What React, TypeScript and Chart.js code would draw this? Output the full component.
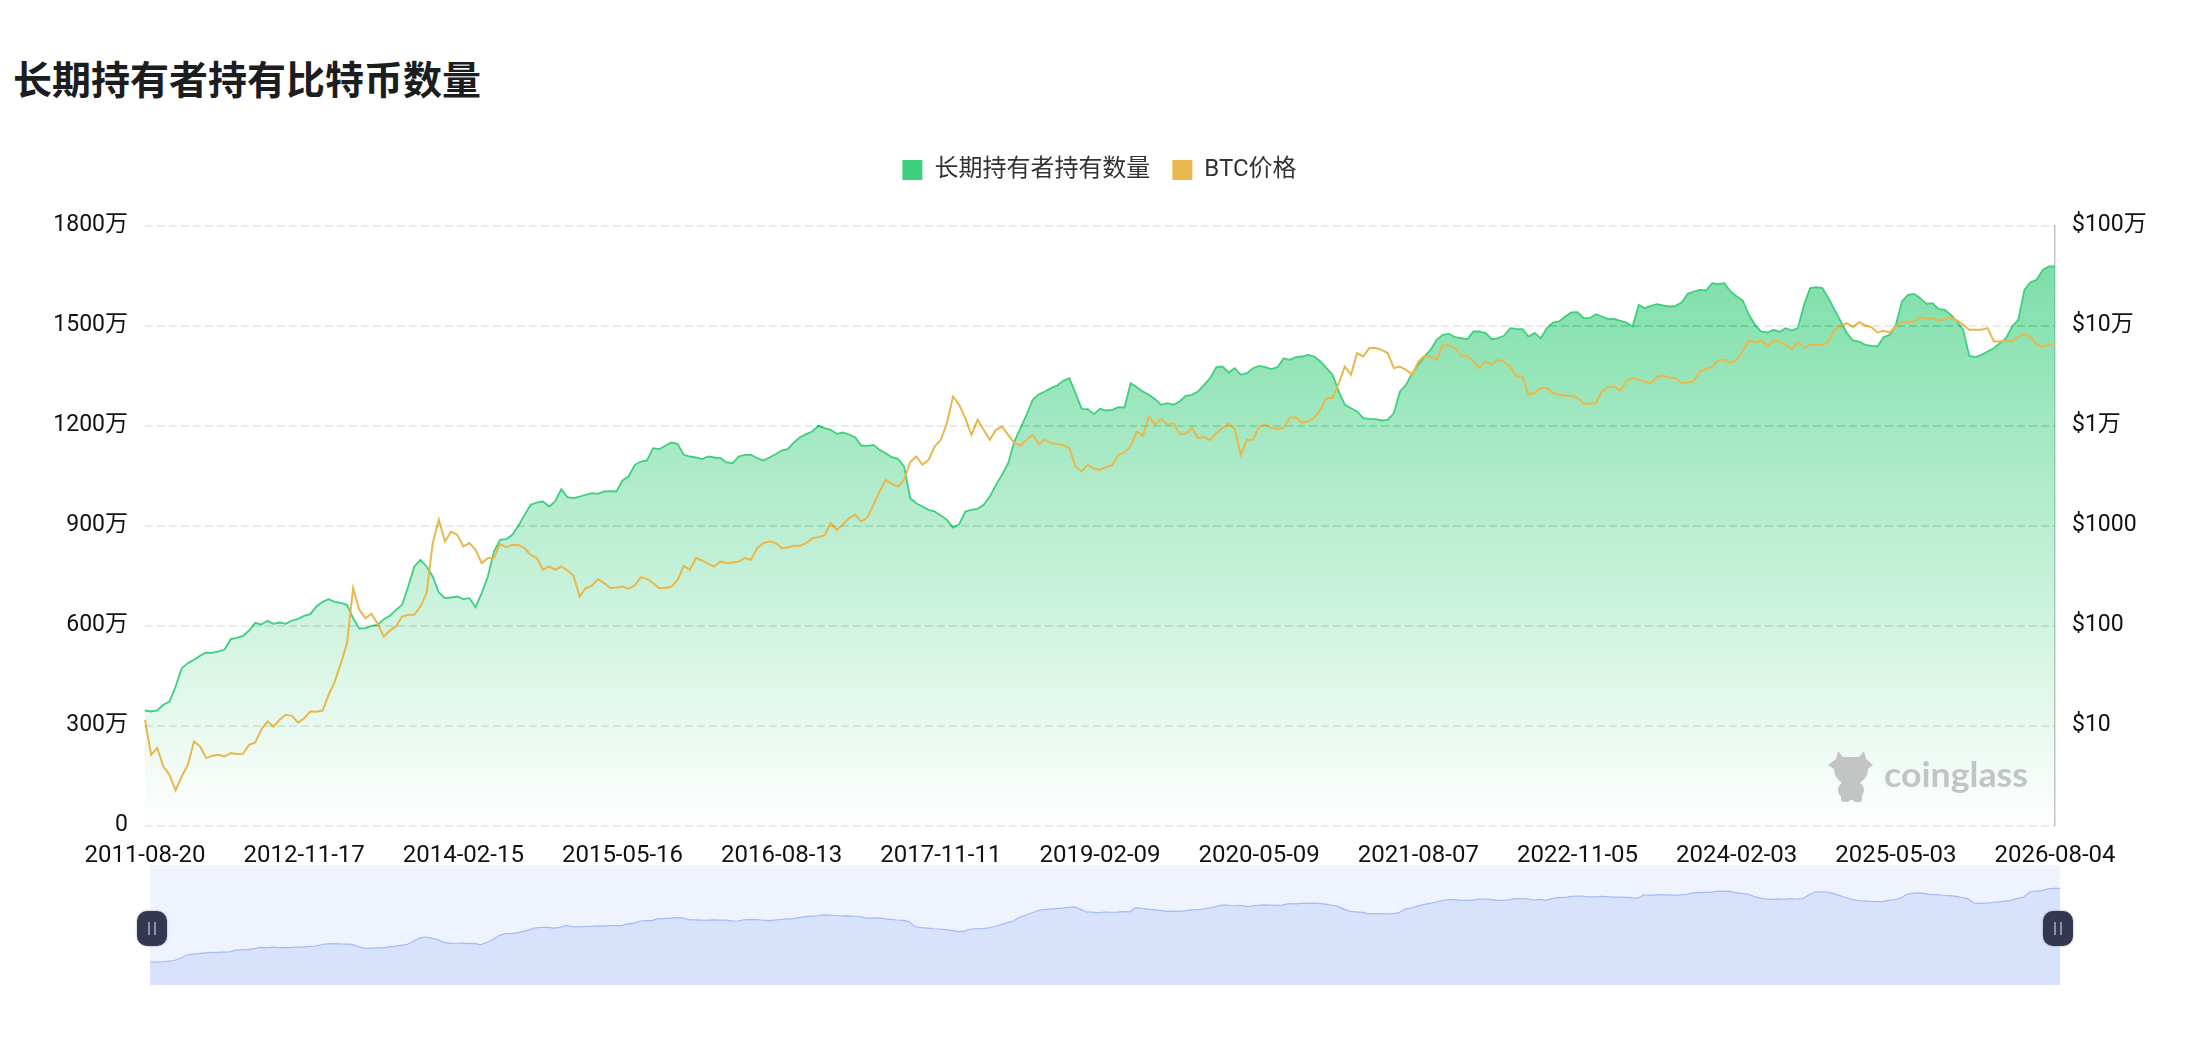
import React, { useEffect, useRef } from "react";
import { Chart, registerables } from "chart.js";

Chart.register(...registerables);

const dateTicks = ["2011-08-20","2012-11-17","2014-02-15","2015-05-16","2016-08-13","2017-11-11","2019-02-09","2020-05-09","2021-08-07","2022-11-05","2024-02-03","2025-05-03","2026-08-04"];
const holderTicks = [0,300,600,900,1200,1500,1800];
const holderTickLabels = ["0","300万","600万","900万","1200万","1500万","1800万"];
const priceTicks = [10,100,1000,10000,100000,1000000];
const priceTickLabels = ["$10","$100","$1000","$1万","$10万","$100万"];
const seriesNames = ["长期持有者持有数量","BTC价格"];
const SAMPLES_PER_TICK = 26;

// long-term holder supply, in units of 万 BTC
const holderValues = [
345,342,345,362,372,417,472,487,497,509,519,518,522,528,559,563,569,585,608,603,614,605,609,605,615,620,629,634,657,671,679,671,668,662,622,591,592,599,602,619,
629,647,662,717,777,797,777,747,699,682,684,687,679,682,655,697,747,822,857,859,872,899,932,962,969,972,957,972,1009,985,982,987,992,997,995,1002,1003,1002,1035,
1047,1082,1092,1095,1132,1129,1139,1149,1145,1112,1107,1104,1099,1107,1104,1102,1089,1087,1107,1112,1112,1102,1095,1104,1114,1125,1129,1149,1165,1174,1182,1199,1192,1187,1175,1179,1173,1165,1140,
1139,1142,1127,1117,1105,1100,1077,982,967,957,947,942,930,917,894,904,942,947,950,962,987,1022,1052,1087,1152,1192,1232,1277,1294,1302,1312,1320,1334,1342,1297,1250,1249,1234,1250,
1245,1247,1255,1254,1327,1315,1302,1292,1279,1262,1267,1262,1272,1289,1292,1302,1322,1342,1375,1377,1359,1372,1352,1357,1372,1379,1375,1369,1375,1402,1397,1405,1407,1412,1407,1392,1372,1352,1302,
1262,1252,1242,1222,1220,1219,1215,1217,1237,1302,1322,1357,1382,1407,1427,1457,1472,1475,1465,1462,1459,1482,1482,1477,1459,1462,1469,1492,1490,1489,1467,1477,1462,1492,1509,1512,1527,1539,1540,1522,
1522,1534,1527,1519,1520,1514,1509,1497,1562,1552,1559,1564,1560,1557,1559,1569,1595,1602,1607,1605,1627,1624,1627,1602,1587,1575,1532,1502,1482,1479,1487,1481,1492,1485,1492,1562,1612,1615,1612,
1582,1547,1512,1477,1455,1452,1442,1439,1437,1465,1472,1502,1572,1592,1595,1582,1565,1567,1549,1547,1532,1512,1487,1409,1405,1412,1422,1432,1447,1462,1497,1517,1607,1630,1637,1667,1677,1677,
];

// BTC price in USD
const priceValues = [
11.4,5.09,5.95,3.89,3.21,2.24,3.09,4.05,6.92,6.17,4.72,4.98,5.09,4.9,5.3,5.18,5.21,6.41,6.76,9.06,11,9.77,11.4,12.8,12.5,10.7,11.8,13.8,13.7,14.1,20.3,27.5,42,66.6,237,144,118,131,104,77.6,
89,98,123,128,128,155,211,667,1140,692,871,807,617,667,571,421,472,472,656,608,641,637,594,509,472,361,389,361,389,355,314,195,237,250,291,265,237,240,245,
233,251,305,293,265,237,237,245,286,395,361,472,447,414,389,437,421,427,437,472,454,594,667,692,667,594,603,627,627,667,748,765,795,1057,906,1016,1186,1279,1096,
1202,1611,2188,2864,2594,2455,2864,4305,4898,4046,4539,6166,7194,10570,19500,16100,11850,8070,11400,9060,7194,9060,9770,8070,6670,6310,7194,8070,6520,7194,6670,6520,6410,5940,3890,3470,4046,3690,3610,
3840,4020,5090,5370,6170,8710,7890,12300,10200,11600,10200,10570,8260,8260,9420,7480,7660,7190,8390,9420,10400,9270,5090,7190,7190,9780,10200,9420,9270,9420,12000,12100,10700,11000,11900,14400,18800,18800,26500,
38900,32100,53000,49000,59400,59400,57100,53000,37500,38900,36100,32100,43600,49800,49000,45400,64100,62700,59400,49800,49800,43600,37500,43600,40500,45400,43600,38900,30900,30900,20300,21100,23700,23700,21100,20300,19800,19800,18800,16500,
16500,16700,21900,24200,24600,22400,28200,29800,28600,27600,26500,30900,31400,30200,29800,26500,26900,28000,34700,36900,38400,44700,45400,42100,45400,55000,71900,67600,70800,61700,70800,69200,64100,58100,69200,59400,64100,64100,64100,
69200,90600,99300,105700,96400,108000,100000,96400,85100,88500,85100,97800,109600,107200,109600,120200,116700,118500,112200,116700,118500,112200,101600,90600,90600,90600,94200,69200,69200,70800,69200,76600,82600,76600,64100,61700,64100,65200,
];

const sampleLabels = holderValues.map((_, i) => (i % SAMPLES_PER_TICK === 0 ? dateTicks[i / SAMPLES_PER_TICK] : ""));

const FONT = 'Roboto, "Noto Sans CJK SC", sans-serif';
const GREEN = "#3ecf7f";
const YELLOW = "#e8b84e";

const gridOverArea = {
  id: "gridOverArea",
  afterDatasetsDraw(chart: any) {
    const { ctx, chartArea, scales } = chart;
    ctx.save();
    ctx.globalCompositeOperation = "color-burn";
    ctx.strokeStyle = "#cccccc";
    ctx.lineWidth = 2;
    ctx.setLineDash([8, 4]);
    holderTicks.forEach((t) => {
      const y = Math.round(scales.y.getPixelForValue(t));
      ctx.beginPath();
      ctx.moveTo(chartArea.left, y);
      ctx.lineTo(chartArea.right, y);
      ctx.stroke();
    });
    ctx.restore();
  },
};

const legendGap = {
  id: "legendGap",
  beforeLayout(chart: any) {
    const legend = chart.legend;
    if (legend && !legend.__patched) {
      const fit = legend.fit;
      legend.fit = function () {
        fit.call(this);
        this.height = 89.5;
      };
      legend.__patched = true;
    }
  },
};

function App() {
  const mainRef = useRef<HTMLCanvasElement>(null);
  const sliderRef = useRef<HTMLCanvasElement>(null);

  useEffect(() => {
    const main = new Chart(mainRef.current as any, {
      type: "line",
      data: {
        labels: sampleLabels,
        datasets: [
          {
            label: seriesNames[0],
            data: holderValues,
            yAxisID: "y",
            order: 1,
            borderColor: GREEN,
            borderWidth: 1.8,
            pointRadius: 0,
            tension: 0,
            fill: "origin",
            backgroundColor: (c: any) => {
              const area = c.chart.chartArea;
              if (!area) return "rgba(62,207,127,0.4)";
              const g = c.chart.ctx.createLinearGradient(0, area.top, 0, area.bottom);
              g.addColorStop(0, "rgba(62,207,127,0.72)");
              g.addColorStop(1, "rgba(62,207,127,0)");
              return g;
            },
          },
          {
            label: seriesNames[1],
            data: priceValues,
            yAxisID: "price",
            order: 0,
            borderColor: YELLOW,
            borderWidth: 2,
            pointRadius: 0,
            tension: 0,
            fill: false,
          },
        ],
      },
      options: {
        responsive: false,
        animation: false,
        devicePixelRatio: 1,
        layout: { padding: { left: 11, top: 136, right: 0, bottom: 0 } },
        plugins: {
          tooltip: { enabled: false },
          legend: {
            position: "top",
            labels: {
              boxWidth: 20,
              boxHeight: 20,
              padding: 22,
              font: { family: FONT, size: 24 },
              generateLabels: () => [
                { text: seriesNames[0], fillStyle: GREEN, strokeStyle: "transparent", lineWidth: 0, datasetIndex: 0, fontColor: "#333333" },
                { text: seriesNames[1], fillStyle: YELLOW, strokeStyle: "transparent", lineWidth: 0, datasetIndex: 1, fontColor: "#333333" },
              ],
            },
          },
        },
        scales: {
          x: {
            type: "category",
            offset: false,
            grid: { display: false },
            border: { display: false },
            ticks: {
              autoSkip: false,
              maxRotation: 0,
              minRotation: 0,
              padding: 8,
              color: "#111111",
              font: { family: FONT, size: 24 },
              callback(this: any, v: any) {
                return this.getLabelForValue(v) || null;
              },
            },
            afterFit(s: any) {
              s.height = 216.5;
            },
          },
          y: {
            position: "left",
            min: holderTicks[0],
            max: holderTicks[holderTicks.length - 1],
            grid: { color: "#efefef", lineWidth: 2, drawTicks: false },
            border: { display: false, dash: [8, 4] },
            afterBuildTicks(a: any) {
              a.ticks = holderTicks.map((value) => ({ value }));
            },
            ticks: {
              padding: 17,
              color: "#111111",
              font: { family: FONT, size: 23 },
              callback: (v: any) => holderTickLabels[holderTicks.indexOf(v)],
            },
            afterFit(s: any) {
              s.width = 134;
            },
          },
          price: {
            type: "logarithmic",
            position: "right",
            min: 1,
            max: 1000000,
            grid: { display: false, drawTicks: false },
            border: { display: true, color: "#c6c6c6", width: 1.5 },
            afterBuildTicks(a: any) {
              a.ticks = priceTicks.map((value) => ({ value }));
            },
            ticks: {
              padding: 17,
              color: "#111111",
              font: { family: FONT, size: 23 },
              callback: (v: any) => priceTickLabels[priceTicks.indexOf(v)],
            },
            afterFit(s: any) {
              s.width = 133;
            },
          },
        },
      } as any,
      plugins: [legendGap, gridOverArea],
    });

    const slider = new Chart(sliderRef.current as any, {
      type: "line",
      data: {
        labels: sampleLabels,
        datasets: [
          {
            data: holderValues,
            borderColor: "#a3bbf5",
            borderWidth: 1.2,
            pointRadius: 0,
            tension: 0,
            fill: "start",
            backgroundColor: "#d8e2fb",
          },
        ],
      },
      options: {
        responsive: false,
        animation: false,
        devicePixelRatio: 1,
        plugins: { legend: { display: false }, tooltip: { enabled: false } },
        scales: {
          x: { display: false, offset: false },
          y: { display: false, min: -72, max: 2101 },
        },
      } as any,
    });

    return () => {
      main.destroy();
      slider.destroy();
    };
  }, []);

  const handle = (left: number) => (
    <div
      style={{
        position: "absolute",
        left,
        top: 911,
        width: 30,
        height: 35,
        borderRadius: 10,
        background: "#343750",
        boxShadow: "0 0 2px rgba(52,55,80,0.5)",
      }}
    >
      <div style={{ position: "absolute", left: 11, top: 11, width: 2, height: 13, background: "#8d90a6" }} />
      <div style={{ position: "absolute", left: 17, top: 11, width: 2, height: 13, background: "#8d90a6" }} />
    </div>
  );

  return (
    <div style={{ position: "absolute", left: 0, top: 0, width: 2188, height: 1042, background: "#fff", overflow: "hidden" }}>
      <div
        style={{
          position: "absolute",
          left: 13,
          top: 51,
          font: `bold 39px/52px "Noto Sans CJK SC", sans-serif`,
          color: "#1b1d20",
          whiteSpace: "nowrap",
        }}
      >
        长期持有者持有比特币数量
      </div>
      <canvas ref={mainRef} width={2188} height={1042} style={{ position: "absolute", left: 0, top: 0, display: "block" }} />
      <svg width={2188} height={1042} style={{ position: "absolute", left: 0, top: 0, pointerEvents: "none" }}>
        <g fill="#c3c5c4">
          <path d="M1838 751 L1843 757 L1859 757 L1864 751 L1866 759 L1873 765 L1868 769 L1867 775 Q1862 785 1851 785 Q1840 785 1835 775 L1834 769 L1828 765 L1836 759 Z" />
          <ellipse cx="1851" cy="790" rx="13" ry="10" />
          <rect x="1841" y="794" width="9" height="8" rx="3" />
          <rect x="1853" y="794" width="9" height="8" rx="3" />
        </g>
        <text x="1884" y="787" fill="#c3c5c4" textLength="144" lengthAdjust="spacingAndGlyphs" style={{ font: 'bold 35px Lato, sans-serif' }}>
          coinglass
        </text>
      </svg>
      <div style={{ position: "absolute", left: 150, top: 865, width: 1910, height: 120, background: "#eef3fe" }} />
      <canvas ref={sliderRef} width={1910} height={120} style={{ position: "absolute", left: 150, top: 865, display: "block" }} />
      {handle(137)}
      {handle(2043)}
    </div>
  );
}

export default App;
